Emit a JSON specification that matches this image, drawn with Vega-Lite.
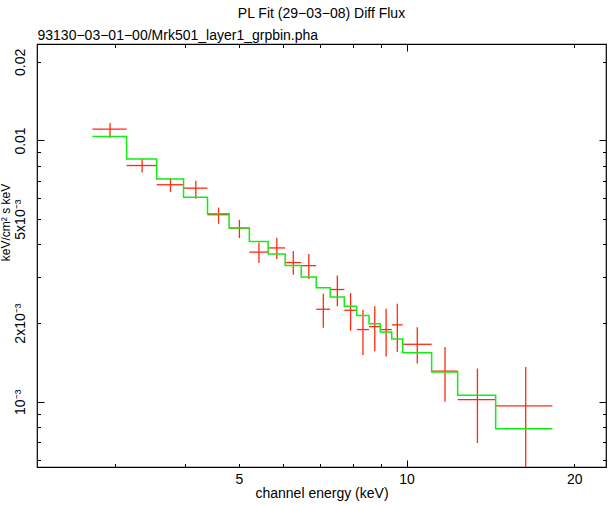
{
  "$schema": "https://vega.github.io/schema/vega-lite/v6.json",
  "width": 569,
  "height": 423,
  "autosize": {"type": "none"},
  "padding": {"left": 37, "top": 44, "right": 7, "bottom": 39},
  "background": "white",
  "title": {"text": "PL Fit (29−03−08) Diff Flux", "anchor": "middle", "fontSize": 14, "fontWeight": "normal", "font": "Liberation Sans", "color": "black", "offset": 8},
  "config": {
    "view": {"stroke": "black", "strokeWidth": 1.2},
    "axis": {"labelFont": "Liberation Sans", "titleFont": "Liberation Sans", "labelColor": "black", "titleColor": "black", "tickColor": "black", "titleFontWeight": "normal", "labelFontSize": 14, "titleFontSize": 14, "domain": false, "grid": false, "tickWidth": 1, "labelOverlap": false, "labelBound": false, "labelFlush": false}
  },
  "datasets": {
    "bins": [
      {"lo": 2.728, "hi": 3.143, "E": 2.935, "flux": 0.01106, "flux_lo": 0.01021, "flux_hi": 0.01166},
      {"lo": 3.143, "hi": 3.559, "E": 3.351, "flux": 0.00802, "flux_lo": 0.00754, "flux_hi": 0.00849},
      {"lo": 3.559, "hi": 3.977, "E": 3.768, "flux": 0.00677, "flux_lo": 0.00635, "flux_hi": 0.00718},
      {"lo": 3.977, "hi": 4.391, "E": 4.184, "flux": 0.00657, "flux_lo": 0.00598, "flux_hi": 0.00701},
      {"lo": 4.391, "hi": 4.801, "E": 4.596, "flux": 0.0052, "flux_lo": 0.0048, "flux_hi": 0.00554},
      {"lo": 4.801, "hi": 5.22, "E": 5.01, "flux": 0.00462, "flux_lo": 0.00423, "flux_hi": 0.00497},
      {"lo": 5.22, "hi": 5.642, "E": 5.431, "flux": 0.00374, "flux_lo": 0.0034, "flux_hi": 0.00407},
      {"lo": 5.642, "hi": 6.053, "E": 5.848, "flux": 0.00388, "flux_lo": 0.00352, "flux_hi": 0.00424},
      {"lo": 6.053, "hi": 6.468, "E": 6.26, "flux": 0.00341, "flux_lo": 0.00306, "flux_hi": 0.00378},
      {"lo": 6.468, "hi": 6.882, "E": 6.675, "flux": 0.00332, "flux_lo": 0.00295, "flux_hi": 0.00368},
      {"lo": 6.882, "hi": 7.292, "E": 7.087, "flux": 0.00226, "flux_lo": 0.00192, "flux_hi": 0.00259},
      {"lo": 7.292, "hi": 7.729, "E": 7.51, "flux": 0.00269, "flux_lo": 0.00232, "flux_hi": 0.00304},
      {"lo": 7.729, "hi": 8.135, "E": 7.932, "flux": 0.00224, "flux_lo": 0.00187, "flux_hi": 0.00261},
      {"lo": 8.135, "hi": 8.561, "E": 8.348, "flux": 0.00189, "flux_lo": 0.00151, "flux_hi": 0.00225},
      {"lo": 8.561, "hi": 8.97, "E": 8.766, "flux": 0.00194, "flux_lo": 0.00156, "flux_hi": 0.00232},
      {"lo": 8.97, "hi": 9.404, "E": 9.187, "flux": 0.00189, "flux_lo": 0.00149, "flux_hi": 0.00227},
      {"lo": 9.404, "hi": 9.842, "E": 9.623, "flux": 0.00197, "flux_lo": 0.00155, "flux_hi": 0.00237},
      {"lo": 9.842, "hi": 11.09, "E": 10.45, "flux": 0.00166, "flux_lo": 0.0014, "flux_hi": 0.00193},
      {"lo": 11.09, "hi": 12.35, "E": 11.72, "flux": 0.00131, "flux_lo": 0.001, "flux_hi": 0.00162},
      {"lo": 12.35, "hi": 14.45, "E": 13.4, "flux": 0.00102, "flux_lo": 0.000696, "flux_hi": 0.00134},
      {"lo": 14.45, "hi": 18.27, "E": 16.36, "flux": 0.000964, "flux_lo": 0.0004, "flux_hi": 0.00136}
    ],
    "model": [
      {"E": 2.728, "model": 0.01036},
      {"E": 3.143, "model": 0.00849},
      {"E": 3.559, "model": 0.00712},
      {"E": 3.977, "model": 0.00607},
      {"E": 4.391, "model": 0.00524},
      {"E": 4.801, "model": 0.00462},
      {"E": 5.22, "model": 0.00411},
      {"E": 5.642, "model": 0.00368},
      {"E": 6.053, "model": 0.00332},
      {"E": 6.468, "model": 0.003},
      {"E": 6.882, "model": 0.00273},
      {"E": 7.292, "model": 0.00252},
      {"E": 7.729, "model": 0.00232},
      {"E": 8.135, "model": 0.00214},
      {"E": 8.561, "model": 0.00199},
      {"E": 8.97, "model": 0.00185},
      {"E": 9.404, "model": 0.00174},
      {"E": 9.842, "model": 0.00154},
      {"E": 11.09, "model": 0.0013},
      {"E": 12.35, "model": 0.00106},
      {"E": 14.45, "model": 0.000789},
      {"E": 18.27, "model": 0.000789}
    ]
  },
  "layer": [
    {
      "data": {"name": "bins"},
      "mark": {"type": "rule", "color": "#ff2a0e", "strokeWidth": 1.3, "clip": true},
      "encoding": {
        "x": {"field": "lo", "type": "quantitative",
          "scale": {"type": "log", "domain": [2.17, 22.8], "nice": false, "zero": false},
          "axis": {"orient": "bottom", "values": [3, 4, 5, 6, 7, 8, 9, 10, 20],
            "labelExpr": "datum.value == 5 || datum.value == 10 || datum.value == 20 ? '' + datum.value : ''",
            "tickSize": {"condition": {"test": "datum.value == 10", "value": -7}, "value": -3.5},
            "labelPadding": {"condition": {"test": "datum.value == 10", "value": 12}, "value": 8.5},
            "title": "channel energy (keV)", "titlePadding": 0}},
        "x2": {"field": "hi"},
        "y": {"field": "flux", "type": "quantitative",
          "scale": {"type": "log", "domain": [0.000563, 0.0234], "nice": false, "zero": false},
          "axis": {"orient": "left", "values": [0.0006, 0.0007, 0.0008, 0.0009, 0.001, 0.002, 0.003, 0.004, 0.005, 0.006, 0.007, 0.008, 0.009, 0.01, 0.02],
            "labelExpr": "datum.value == 0.02 ? '0.02' : datum.value == 0.01 ? '0.01' : datum.value == 0.005 ? '5x10⁻³' : datum.value == 0.002 ? '2x10⁻³' : datum.value == 0.001 ? '10⁻³' : ''",
            "labelAngle": 270, "labelAlign": "center", "labelBaseline": "bottom",
            "tickSize": {"condition": {"test": "datum.value == 0.01 || datum.value == 0.001", "value": -7}, "value": -3.5},
            "labelPadding": {"condition": {"test": "datum.value == 0.01 || datum.value == 0.001", "value": 17}, "value": 13.5},
            "title": "keV/cm² s keV", "titleFontSize": 12, "titleAngle": 270, "titleBaseline": "bottom", "titleAlign": "center", "titleX": -24.5, "titleY": 178}}
      }
    },
    {
      "data": {"name": "bins"},
      "mark": {"type": "rule", "color": "#ff2a0e", "strokeWidth": 1.3, "clip": true},
      "encoding": {
        "x": {"field": "E", "type": "quantitative",
          "scale": {"type": "log", "domain": [2.17, 22.8], "nice": false, "zero": false},
          "axis": {"orient": "top", "values": [3, 4, 5, 6, 7, 8, 9, 10, 20], "labels": false,
            "tickSize": {"condition": {"test": "datum.value == 10", "value": -7}, "value": -3.5},
            "title": "93130−03−01−00/Mrk501_layer1_grpbin.pha", "titleAnchor": "start", "titleAlign": "left", "titlePadding": 1}},
        "y": {"field": "flux_lo", "type": "quantitative",
          "scale": {"type": "log", "domain": [0.000563, 0.0234], "nice": false, "zero": false},
          "axis": {"orient": "right", "values": [0.0006, 0.0007, 0.0008, 0.0009, 0.001, 0.002, 0.003, 0.004, 0.005, 0.006, 0.007, 0.008, 0.009, 0.01, 0.02], "labels": false,
            "tickSize": {"condition": {"test": "datum.value == 0.01 || datum.value == 0.001", "value": -7}, "value": -3.5},
            "title": null}},
        "y2": {"field": "flux_hi"}
      }
    },
    {
      "data": {"name": "model"},
      "mark": {"type": "line", "interpolate": "step-after", "color": "#14ec14", "strokeWidth": 1.5},
      "encoding": {
        "x": {"field": "E", "type": "quantitative", "scale": {"type": "log", "domain": [2.17, 22.8], "nice": false, "zero": false}, "axis": null},
        "y": {"field": "model", "type": "quantitative", "scale": {"type": "log", "domain": [0.000563, 0.0234], "nice": false, "zero": false}, "axis": null}
      }
    }
  ],
  "resolve": {"axis": {"x": "independent", "y": "independent"}}
}
